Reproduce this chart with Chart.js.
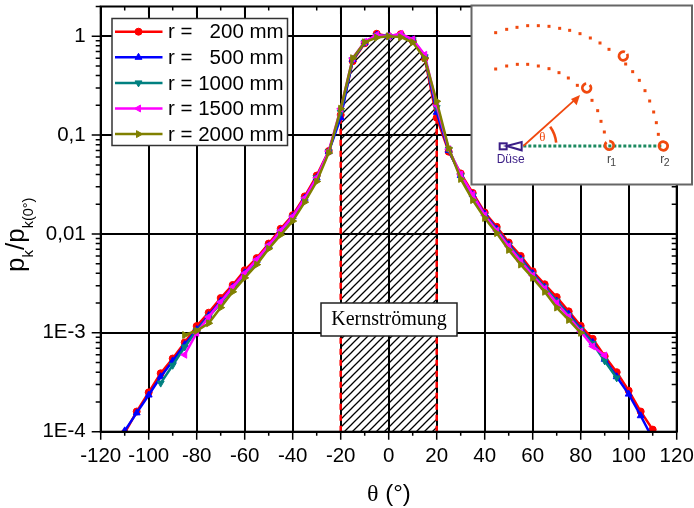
<!DOCTYPE html>
<html>
<head>
<meta charset="utf-8">
<style>
body { margin: 0; background: #fff; }
canvas { display: block; }
</style>
<script src="https://cdn.jsdelivr.net/npm/chart.js@4"></script>
</head>
<body>
<canvas id="chart" width="694" height="508"></canvas>
<script>
// angles in degrees, every 5 deg
const theta = [-110,-105,-100,-95,-90,-85,-80,-75,-70,-65,-60,-55,-50,-45,-40,-35,-30,-25,-20,-15,-10,-5,0,5,10,15,20,25,30,35,40,45,50,55,60,65,70,75,80,85,90,95,100,105,110];

const r200 = [0.97e-4,1.6e-4,2.5e-4,3.9e-4,5.5e-4,8e-4,1.17e-3,1.6e-3,2.25e-3,3.05e-3,4.3e-3,5.7e-3,8e-3,0.0113,0.0155,0.024,0.039,0.069,0.16,0.56,0.85,1.06,1,1.05,0.9,0.6,0.15,0.068,0.041,0.026,0.0165,0.0118,0.0082,0.006,0.0042,0.0031,0.0023,1.65e-3,1.18e-3,8.7e-4,5.8e-4,4e-4,2.6e-4,1.6e-4,1.05e-4];
const r500 = [1.02e-4,1.55e-4,2.35e-4,3.6e-4,5.2e-4,7.6e-4,1.08e-3,1.5e-3,2.1e-3,2.9e-3,4.05e-3,5.4e-3,7.6e-3,0.0108,0.015,0.023,0.037,0.068,0.15,0.58,0.86,1.03,1,1.03,0.92,0.63,0.17,0.07,0.039,0.025,0.016,0.0112,0.0078,0.0056,0.004,0.0029,0.0021,1.55e-3,1.1e-3,8e-4,5.4e-4,3.6e-4,2.4e-4,1.45e-4,0.85e-4];
const r1000 = [null,null,null,3.1e-4,4.7e-4,7.2e-4,1.05e-3,1.45e-3,2e-3,2.8e-3,3.9e-3,5.3e-3,7.5e-3,0.0105,0.0148,0.0225,0.037,0.068,0.17,0.58,0.87,1.02,1,1.02,0.92,0.62,0.19,0.072,0.039,0.0245,0.0155,0.011,0.0077,0.0055,0.0039,0.0029,0.0021,1.5e-3,1.08e-3,7.8e-4,5.2e-4,3.5e-4,null,null,null];
const r1500 = [null,null,null,null,null,6e-4,1e-3,1.45e-3,2.05e-3,2.9e-3,4e-3,5.5e-3,7.7e-3,0.0108,0.015,0.023,0.037,0.069,0.185,0.6,0.88,1.03,1,1.06,0.93,0.65,0.2,0.072,0.04,0.025,0.0155,0.0108,0.0075,0.0053,0.0038,0.0028,0.002,1.45e-3,1.03e-3,7.3e-4,5.9e-4,null,null,null,null];
const r2000 = [null,null,null,null,null,9.5e-4,1.05e-3,1.25e-3,1.8e-3,2.6e-3,3.6e-3,4.9e-3,7.1e-3,0.0098,0.0135,0.021,0.034,0.066,0.185,0.6,0.87,0.97,1,0.98,0.87,0.6,0.22,0.074,0.036,0.022,0.0145,0.0102,0.0069,0.0049,0.0036,0.0026,0.0018,1.35e-3,1e-3,null,null,null,null,null,null];

const seriesNames = ["r =   200 mm","r =   500 mm","r = 1000 mm","r = 1500 mm","r = 2000 mm"];

// core flow region
const coreLimits = [-20, 20];
const coreLabel = "Kernströmung";

const xTicks = [-120,-110,-100,-90,-80,-70,-60,-50,-40,-30,-20,-10,0,10,20,30,40,50,60,70,80,90,100,110,120];
const yMajor = [1e-4,1e-3,0.01,0.1,1];
const yMajorLabels = ["1E-4","1E-3","0,01","0,1","1"];
const yMinorFactors = [2,3,4,5,6,7,8,9];
const yMax = 2;

const SANS = '"Liberation Sans", Arial, sans-serif';
const SERIF = '"Liberation Serif", "Times New Roman", serif';

function points(values) {
  const out = [];
  values.forEach((v, i) => { if (v !== null) out.push({x: theta[i], y: v}); });
  return out;
}

function allYTicks() {
  const t = [];
  yMajor.forEach(m => {
    t.push(m);
    if (m < 1) yMinorFactors.forEach(f => t.push(m * f));
  });
  t.push(yMax);
  return t;
}

function isMajorY(v) {
  return yMajor.some(m => Math.abs(v - m) < m * 1e-6);
}

function hatchPattern() {
  const n = 8;
  const c = document.createElement("canvas");
  c.width = n;
  c.height = n;
  const g = c.getContext("2d");
  g.strokeStyle = "#000";
  g.lineWidth = 1.3;
  g.beginPath();
  g.moveTo(-1, n + 1); g.lineTo(n + 1, -1);
  g.moveTo(-n, n); g.lineTo(n, -n);
  g.moveTo(0, 2 * n); g.lineTo(2 * n, 0);
  g.stroke();
  return g.createPattern(c, "repeat");
}

function lineSet(values, color, style, rotation, order) {
  return {
    data: points(values),
    borderColor: color,
    backgroundColor: color,
    borderWidth: 2.5,
    pointStyle: style,
    pointRotation: rotation,
    pointRadius: style === "circle" ? 3.5 : 4,
    pointBorderWidth: 1,
    order: order,
    fill: false
  };
}

const coreIdx = theta.map((t, i) => (t >= coreLimits[0] && t <= coreLimits[1]) ? i : -1).filter(i => i >= 0);
const coreTop = coreIdx.map(i => ({x: theta[i], y: r200[i]}));

const datasets = [
  lineSet(r200, "#ff0000", "circle", 0, 5),
  lineSet(r500, "#0000ff", "triangle", 0, 4),
  lineSet(r1000, "#008080", "triangle", 180, 3),
  lineSet(r1500, "#ff00ff", "triangle", -90, 2),
  lineSet(r2000, "#808000", "triangle", 90, 1),
  {
    data: coreTop,
    borderWidth: 0,
    pointRadius: 0,
    backgroundColor: hatchPattern(),
    fill: "start",
    order: 8
  },
  {
    data: [{x: coreLimits[0], y: yMajor[0]}, {x: coreLimits[0], y: coreTop[0].y}],
    borderColor: "#ff0000", borderWidth: 2.5, borderDash: [6, 5], pointRadius: 0, order: 7
  },
  {
    data: [{x: coreLimits[1], y: yMajor[0]}, {x: coreLimits[1], y: coreTop[coreTop.length - 1].y}],
    borderColor: "#ff0000", borderWidth: 2.5, borderDash: [6, 5], pointRadius: 0, order: 7
  }
];

// ticks, frame, legend, titles and label box
const frame = {
  id: "frame",
  afterDraw(chart) {
    const c = chart.ctx, a = chart.chartArea;
    const xs = chart.scales.x, ys = chart.scales.y;
    c.save();
    c.strokeStyle = "#000";
    c.lineWidth = 2;
    c.strokeRect(a.left, a.top, a.right - a.left, a.bottom - a.top);

    c.lineWidth = 1.5;
    c.beginPath();
    xTicks.forEach((t, i) => {
      const px = xs.getPixelForValue(t);
      const major = i % 2 === 0;
      c.moveTo(px, a.bottom); c.lineTo(px, a.bottom + (major ? 8 : 4));
      c.moveTo(px, a.top); c.lineTo(px, a.top + (major ? 8 : 4));
    });
    allYTicks().forEach(t => {
      const py = ys.getPixelForValue(t);
      const major = isMajorY(t);
      c.moveTo(a.left, py); c.lineTo(a.left - (major ? 9 : 5), py);
      c.moveTo(a.right, py); c.lineTo(a.right - (major ? 9 : 5), py);
    });
    c.stroke();

    drawYTitle(c);
    drawXTitle(c);
    drawCoreBox(c);
    drawLegend(chart);
    drawInset(c);
    c.restore();
  }
};

function drawXTitle(c) {
  c.fillStyle = "#000";
  c.textAlign = "left";
  c.textBaseline = "alphabetic";
  c.font = "24px " + SERIF;
  c.fillText("θ", 367, 501);
  const w = c.measureText("θ").width;
  c.font = "24px " + SANS;
  c.fillText(" (°)", 367 + w, 501);
}

function drawYTitle(c) {
  c.save();
  c.translate(24, 272);
  c.rotate(-Math.PI / 2);
  c.fillStyle = "#000";
  c.textAlign = "left";
  c.textBaseline = "alphabetic";
  let x = 0;
  const part = (txt, size, dy) => {
    c.font = size + "px " + SANS;
    c.fillText(txt, x, dy);
    x += c.measureText(txt).width;
  };
  part("p", 26, 0);
  part("k", 15, 9);
  part("/", 26, 0);
  part("p", 26, 0);
  part("k(0°)", 14.5, 9);
  c.restore();
}

function drawCoreBox(c) {
  c.fillStyle = "#fff";
  c.fillRect(321, 303, 136, 33);
  c.strokeStyle = "#222";
  c.lineWidth = 1.5;
  c.strokeRect(321, 303, 136, 33);
  c.fillStyle = "#000";
  c.font = "20px " + SERIF;
  c.textAlign = "center";
  c.textBaseline = "middle";
  c.fillText(coreLabel, 389, 320);
}

function drawLegend(chart) {
  const c = chart.ctx;
  c.fillStyle = "#fff";
  c.fillRect(112, 18.5, 175.5, 127);
  c.strokeStyle = "#333";
  c.lineWidth = 1.5;
  c.strokeRect(112, 18.5, 175.5, 127);
  seriesNames.forEach((name, i) => {
    const ds = chart.data.datasets[i];
    const y = 31.7 + i * 25.6;
    c.strokeStyle = ds.borderColor;
    c.lineWidth = ds.borderWidth;
    c.beginPath();
    c.moveTo(115, y);
    c.lineTo(162.5, y);
    c.stroke();
    c.fillStyle = ds.backgroundColor;
    c.strokeStyle = ds.borderColor;
    c.lineWidth = 1;
    Chart.helpers.drawPoint(c, {
      pointStyle: ds.pointStyle,
      rotation: ds.pointRotation,
      radius: ds.pointRadius,
      borderWidth: 1
    }, 138.5, y);
    c.fillStyle = "#000";
    c.font = "20.5px " + SANS;
    c.textAlign = "left";
    c.textBaseline = "middle";
    c.fillText(name, 168, y + 1);
  });
}

function drawInset(c) {
  const ox = 465, oy = 0, s = 1 / 3;
  const X = v => ox + v * s, Y = v => oy + v * s;
  const orange = "#f0490f", purple = "#3a1d86";

  c.fillStyle = "#fff";
  c.fillRect(471.5, 5.5, 220.5, 179);
  c.strokeStyle = "#666";
  c.lineWidth = 2;
  c.strokeRect(471.5, 5.5, 220.5, 179);

  const outer = [[92,98],[125,88],[156,82],[188,77],[220,77],[252,79],[284,85],[314,91],[345,101],[376,114],[405,129],[432,148],[482,192],[503,215],[523,241],[540,272],[554,303],[566,336],[574,368],[580,403]];
  const inner = [[92,207],[125,198],[157,193],[188,193],[220,198],[252,206],[282,218],[310,234],[337,256],[381,301],[398,332],[408,364],[418,396]];
  c.fillStyle = orange;
  outer.concat(inner).forEach(p => c.fillRect(X(p[0]) - 1.5, Y(p[1]) - 1.5, 3, 3));

  // green axis
  c.strokeStyle = "#1c8a60";
  c.lineWidth = 3;
  c.setLineDash([3, 2]);
  c.beginPath();
  c.moveTo(X(175), Y(438));
  c.lineTo(X(590), Y(438));
  c.stroke();
  c.setLineDash([]);

  // measuring points
  c.strokeStyle = orange;
  c.lineWidth = 2.8;
  [[475,168,0.9,5.6],[365,264,0.6,5.4],[433,436,-0.2,5.6],[595,438,0,6.28]].forEach(r => {
    c.beginPath();
    c.arc(X(r[0]), Y(r[1]), 4.3, r[2] - 1.4, r[2] - 1.4 + r[3]);
    c.stroke();
  });

  // arrow
  c.lineWidth = 1.8;
  c.beginPath();
  c.moveTo(X(175), Y(438));
  c.lineTo(X(330), Y(299));
  c.stroke();
  c.fillStyle = orange;
  c.beginPath();
  c.moveTo(X(345), Y(285));
  c.lineTo(X(318), Y(297));
  c.lineTo(X(335), Y(316));
  c.closePath();
  c.fill();

  // angle
  c.lineWidth = 2.6;
  c.beginPath();
  c.arc(X(175), Y(438), 33, -0.62, -0.1);
  c.stroke();
  c.font = "13px " + SERIF;
  c.textAlign = "center";
  c.textBaseline = "middle";
  c.fillText("θ", X(232), Y(413));

  // nozzle
  c.strokeStyle = purple;
  c.lineWidth = 2;
  c.strokeRect(X(104), Y(430), 7, 6);
  c.beginPath();
  c.moveTo(X(125), Y(438));
  c.lineTo(X(170), Y(426));
  c.lineTo(X(170), Y(451));
  c.closePath();
  c.stroke();
  c.fillStyle = purple;
  c.font = "12px " + SANS;
  c.fillText("Düse", X(137), Y(478));

  // radii
  c.fillStyle = "#444";
  c.textAlign = "left";
  c.font = "12px " + SANS;
  c.fillText("r", X(426), Y(480));
  c.fillText("r", X(586), Y(480));
  c.font = "10.5px " + SANS;
  c.fillText("1", X(436), Y(489));
  c.fillText("2", X(596), Y(489));
}

function noPad(s) {
  s.paddingLeft = 0;
  s.paddingRight = 0;
  s.paddingTop = 0;
  s.paddingBottom = 0;
}

new Chart(document.getElementById("chart"), {
  type: "line",
  data: { datasets: datasets },
  plugins: [frame],
  options: {
    responsive: false,
    animation: false,
    layout: { padding: { left: 0, top: 6.5, right: 17.3, bottom: 0 } },
    plugins: { legend: { display: false }, tooltip: { enabled: false } },
    elements: { line: { tension: 0 } },
    scales: {
      x: {
        type: "linear",
        min: -120,
        max: 120,
        afterFit(s) { s.height = 76.3; noPad(s); },
        afterBuildTicks(s) { s.ticks = xTicks.map(v => ({value: v})); },
        border: { display: false },
        grid: {
          drawTicks: false,
          lineWidth: 2,
          color: c => (c.tick && c.tick.value % 20 === 0) ? "#000" : "rgba(0,0,0,0)"
        },
        ticks: {
          autoSkip: false,
          maxRotation: 0,
          padding: 12,
          color: "#000",
          font: { family: SANS, size: 20.5 },
          callback: v => (v % 20 === 0 ? String(v) : "")
        }
      },
      y: {
        type: "logarithmic",
        min: yMajor[0],
        max: yMax,
        afterFit(s) { s.width = 100.7; noPad(s); },
        afterBuildTicks(s) { s.ticks = allYTicks().map(v => ({value: v})); },
        border: { display: false },
        grid: {
          drawTicks: false,
          lineWidth: 2,
          color: c => (c.tick && isMajorY(c.tick.value)) ? "#000" : "rgba(0,0,0,0)"
        },
        ticks: {
          autoSkip: false,
          padding: 15,
          color: "#000",
          font: { family: SANS, size: 20.5 },
          callback: v => {
            const i = yMajor.findIndex(m => Math.abs(v - m) < m * 1e-6);
            return i >= 0 ? yMajorLabels[i] : "";
          }
        }
      }
    }
  }
});
</script>
</body>
</html>
